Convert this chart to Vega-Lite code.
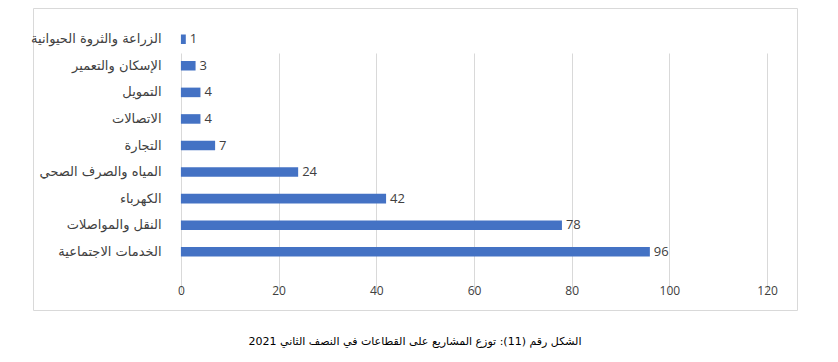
{
  "$schema": "https://vega.github.io/schema/vega-lite/v6.json",
  "width": 764,
  "height": 302,
  "autosize": {"type": "none"},
  "padding": {"left": 33, "top": 8, "right": 41, "bottom": 52},
  "background": "white",
  "config": {
    "view": {"stroke": "#d9d9d9", "strokeWidth": 1},
    "font": "DejaVu Sans"
  },
  "title": {
    "text": "الشكل رقم (11): توزع المشاريع على القطاعات في النصف الثاني 2021",
    "orient": "bottom",
    "anchor": "middle",
    "frame": "group",
    "offset": 26,
    "fontSize": 11,
    "fontWeight": "normal",
    "color": "#000000",
    "font": "DejaVu Sans"
  },
  "data": {
    "values": [
      {"sector": "الزراعة والثروة الحيوانية", "projects": 1},
      {"sector": "الإسكان والتعمير", "projects": 3},
      {"sector": "التمويل", "projects": 4},
      {"sector": "الاتصالات", "projects": 4},
      {"sector": "التجارة", "projects": 7},
      {"sector": "المياه والصرف الصحي", "projects": 24},
      {"sector": "الكهرباء", "projects": 42},
      {"sector": "النقل والمواصلات", "projects": 78},
      {"sector": "الخدمات الاجتماعية", "projects": 96}
    ]
  },
  "encoding": {
    "y": {
      "field": "sector",
      "type": "nominal",
      "sort": null,
      "scale": {"range": [18, 257], "paddingInner": 0.64, "paddingOuter": 0.32},
      "axis": {
        "title": null,
        "domain": false,
        "ticks": false,
        "offset": -148,
        "labelPadding": 20,
        "labelFontSize": 13,
        "labelColor": "#404040",
        "labelFont": "DejaVu Sans"
      }
    },
    "x": {
      "field": "projects",
      "type": "quantitative",
      "scale": {"domain": [-30.28, 126.12], "nice": false, "zero": false},
      "axis": {
        "title": null,
        "values": [0, 20, 40, 60, 80, 100, 120],
        "grid": true,
        "gridColor": "#d9d9d9",
        "gridWidth": 1,
        "domain": false,
        "ticks": false,
        "offset": -45,
        "labelPadding": 20,
        "labelFontSize": 12,
        "labelColor": "#404040",
        "labelFont": "Open Sans"
      }
    }
  },
  "layer": [
    {
      "mark": {"type": "bar", "color": "#4472C4"},
      "encoding": {"x": {"datum": 0}, "x2": {"field": "projects"}}
    },
    {
      "mark": {"type": "text", "align": "left", "baseline": "middle", "dx": 4, "fontSize": 13, "color": "#404040", "font": "Open Sans"},
      "encoding": {"text": {"field": "projects", "type": "quantitative"}}
    }
  ]
}
